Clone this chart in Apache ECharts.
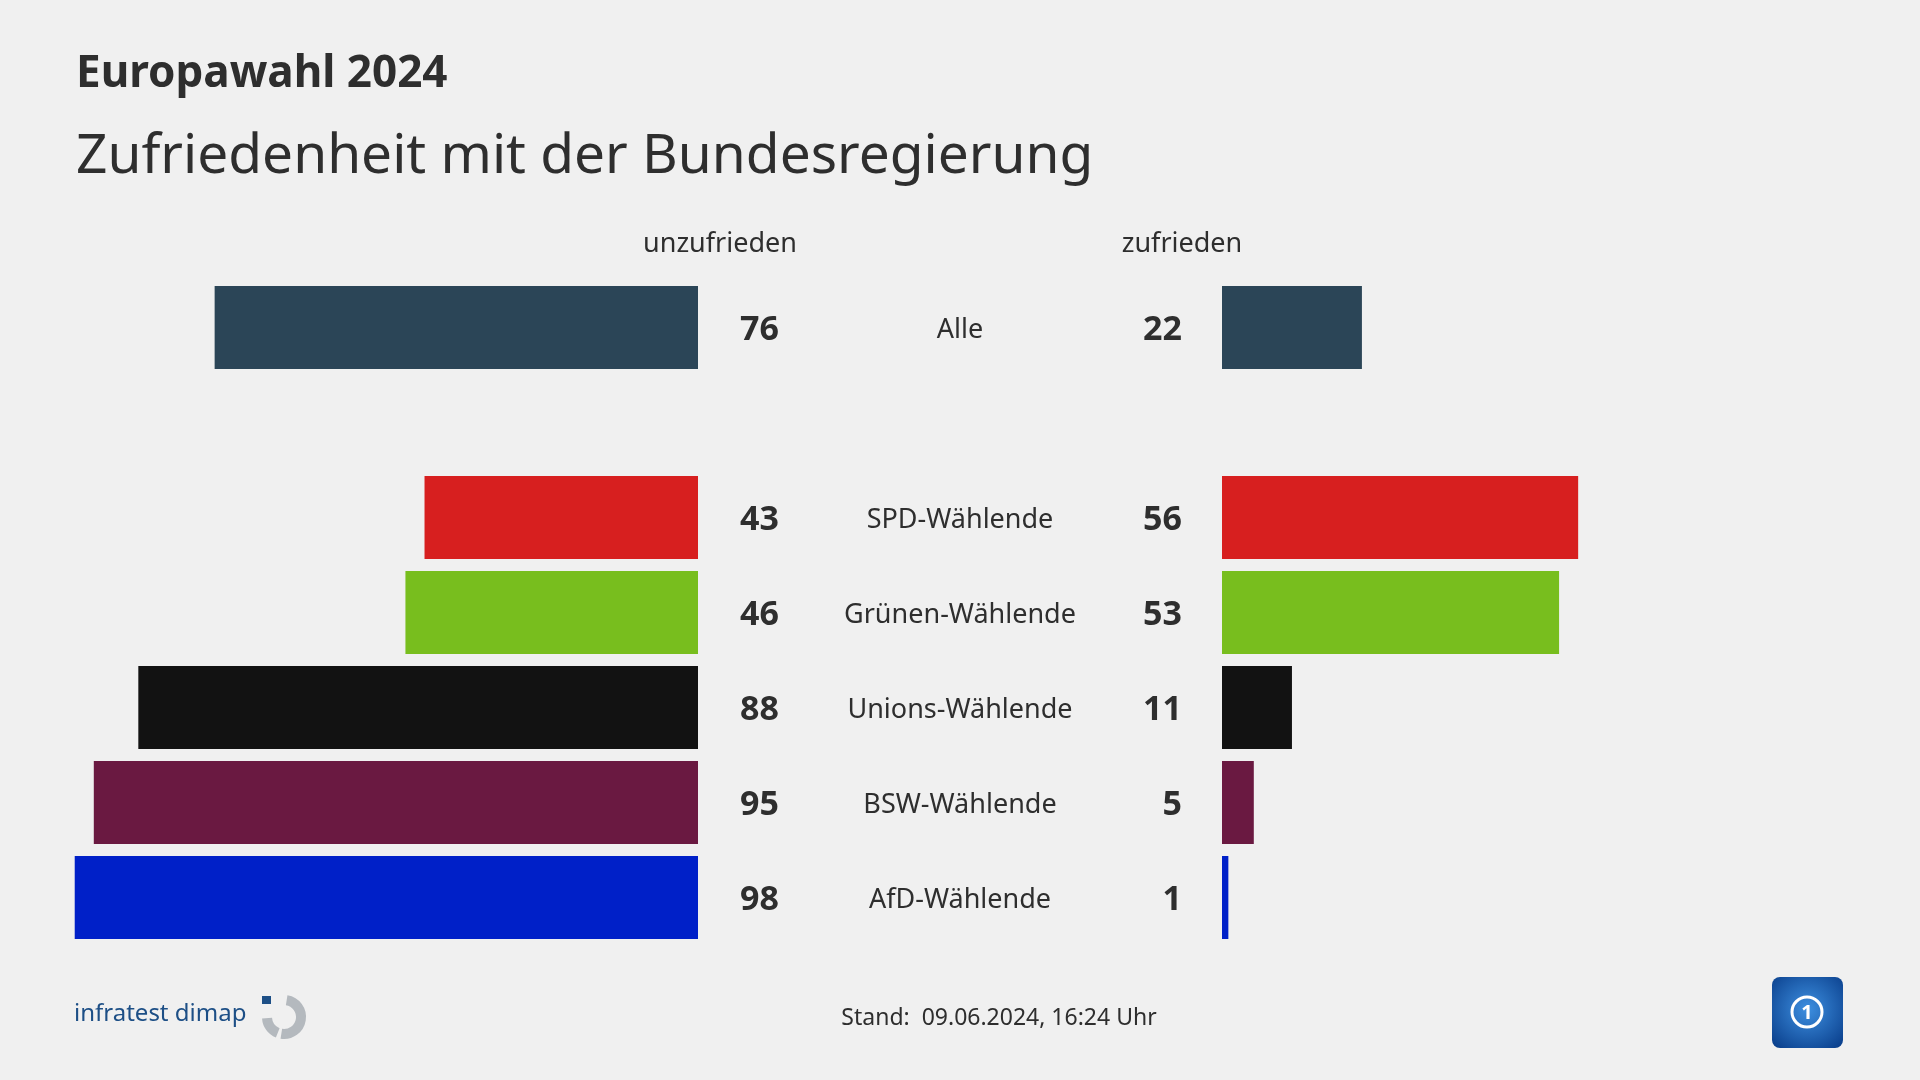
<!DOCTYPE html>
<html><head><meta charset="utf-8">
<script src="https://cdn.jsdelivr.net/npm/echarts@6/dist/echarts.min.js"></script>
<style>html,body{margin:0;padding:0;background:#f0f0f0;}#c{width:1920px;height:1080px;}</style>
</head><body><div id="c"></div>
<script>
const categories = ['Alle', '', 'SPD-Wählende', 'Grünen-Wählende', 'Unions-Wählende', 'BSW-Wählende', 'AfD-Wählende'];
const unzufrieden = [76, null, 43, 46, 88, 95, 98];
const zufrieden = [22, null, 56, 53, 11, 5, 1];
const colors = ['#2b4557', null, '#d71f1f', '#78be1e', '#121212', '#6a1941', '#0020c8'];

const FONT = '"Noto Sans", "Open Sans", sans-serif';
const TXT = '#2e2e2e';
const chart = echarts.init(document.getElementById('c'));

function mk(vals){ return vals.map((v,i)=> v==null ? null : {value:v, itemStyle:{color:colors[i]}}); }

chart.setOption({
  backgroundColor: '#f0f0f0',
  animation: false,
  textStyle: {fontFamily: FONT},
  grid: [
    {left: 62, width: 636, top: 280, height: 665},
    {left: 1222, width: 636, top: 280, height: 665}
  ],
  xAxis: [
    {gridIndex: 0, type: 'value', min: 0, max: 100, inverse: true, show: false},
    {gridIndex: 1, type: 'value', min: 0, max: 100, show: false}
  ],
  yAxis: [
    {gridIndex: 0, type: 'category', data: categories, inverse: true, show: false},
    {gridIndex: 1, type: 'category', data: categories, inverse: true,
     axisLine: {show: false}, axisTick: {show: false}, splitLine: {show: false},
     axisLabel: {margin: 262, align: 'center', color: TXT, fontFamily: FONT,
       formatter: '{a|{value}}',
       rich: {a: {fontSize: 27, color: TXT, fontFamily: FONT, padding: [6, 0, 0, 0]}}}}
  ],
  series: [
    {type: 'bar', xAxisIndex: 0, yAxisIndex: 0, data: mk(unzufrieden), barWidth: 83,
     label: {show: true, position: 'right', distance: 42, offset: [0, 3], fontSize: 34, fontWeight: 'bold', color: TXT, fontFamily: FONT}},
    {type: 'bar', xAxisIndex: 1, yAxisIndex: 1, data: mk(zufrieden), barWidth: 83,
     label: {show: true, position: 'left', distance: 40, offset: [0, 3], fontSize: 34, fontWeight: 'bold', color: TXT, fontFamily: FONT}}
  ],
  graphic: [
    {type: 'text', left: 76, top: 52, style: {text: 'Europawahl 2024', font: 'bold 44px ' + FONT, fill: TXT}},
    {type: 'text', left: 76, top: 130, style: {text: 'Zufriedenheit mit der Bundesregierung', font: '55px ' + FONT, fill: TXT}},
    {type: 'text', x: 720, y: 244, style: {text: 'unzufrieden', font: '27px ' + FONT, fill: TXT, align: 'center', verticalAlign: 'middle'}},
    {type: 'text', x: 1182, y: 244, style: {text: 'zufrieden', font: '27px ' + FONT, fill: TXT, align: 'center', verticalAlign: 'middle'}},
    {type: 'text', x: 999, y: 1018, style: {text: 'Stand:  09.06.2024, 16:24 Uhr', font: '23px ' + FONT, fill: TXT, align: 'center', verticalAlign: 'middle'}},
    {type: 'text', x: 74, y: 1014, style: {text: 'infratest dimap', font: '24px ' + FONT, fill: '#1d4f86', verticalAlign: 'middle'}},
    {type: 'rect', shape: {x: 262, y: 996, width: 9, height: 8}, style: {fill: '#1d4f86'}},
    {type: 'arc', shape: {cx: 284, cy: 1017, r: 17, startAngle: -Math.PI*0.45, endAngle: Math.PI*0.55}, style: {stroke: '#b4b9be', lineWidth: 10, fill: null}},
    {type: 'arc', shape: {cx: 284, cy: 1017, r: 17, startAngle: Math.PI*0.62, endAngle: Math.PI*0.98}, style: {stroke: '#b4b9be', lineWidth: 10, fill: null}},
    {type: 'rect', shape: {x: 1772, y: 977, width: 71, height: 71, r: 8},
     style: {fill: new echarts.graphic.RadialGradient(0.5, 0.45, 0.7, [{offset: 0, color: '#3d8fe0'}, {offset: 1, color: '#0a3f8c'}])}},
    {type: 'circle', shape: {cx: 1807, cy: 1012, r: 15}, style: {stroke: '#ffffff', lineWidth: 3, fill: null}},
    {type: 'text', x: 1807, y: 1013, style: {text: '1', font: 'bold 20px ' + FONT, fill: '#ffffff', align: 'center', verticalAlign: 'middle'}}
  ]
});
</script></body></html>
